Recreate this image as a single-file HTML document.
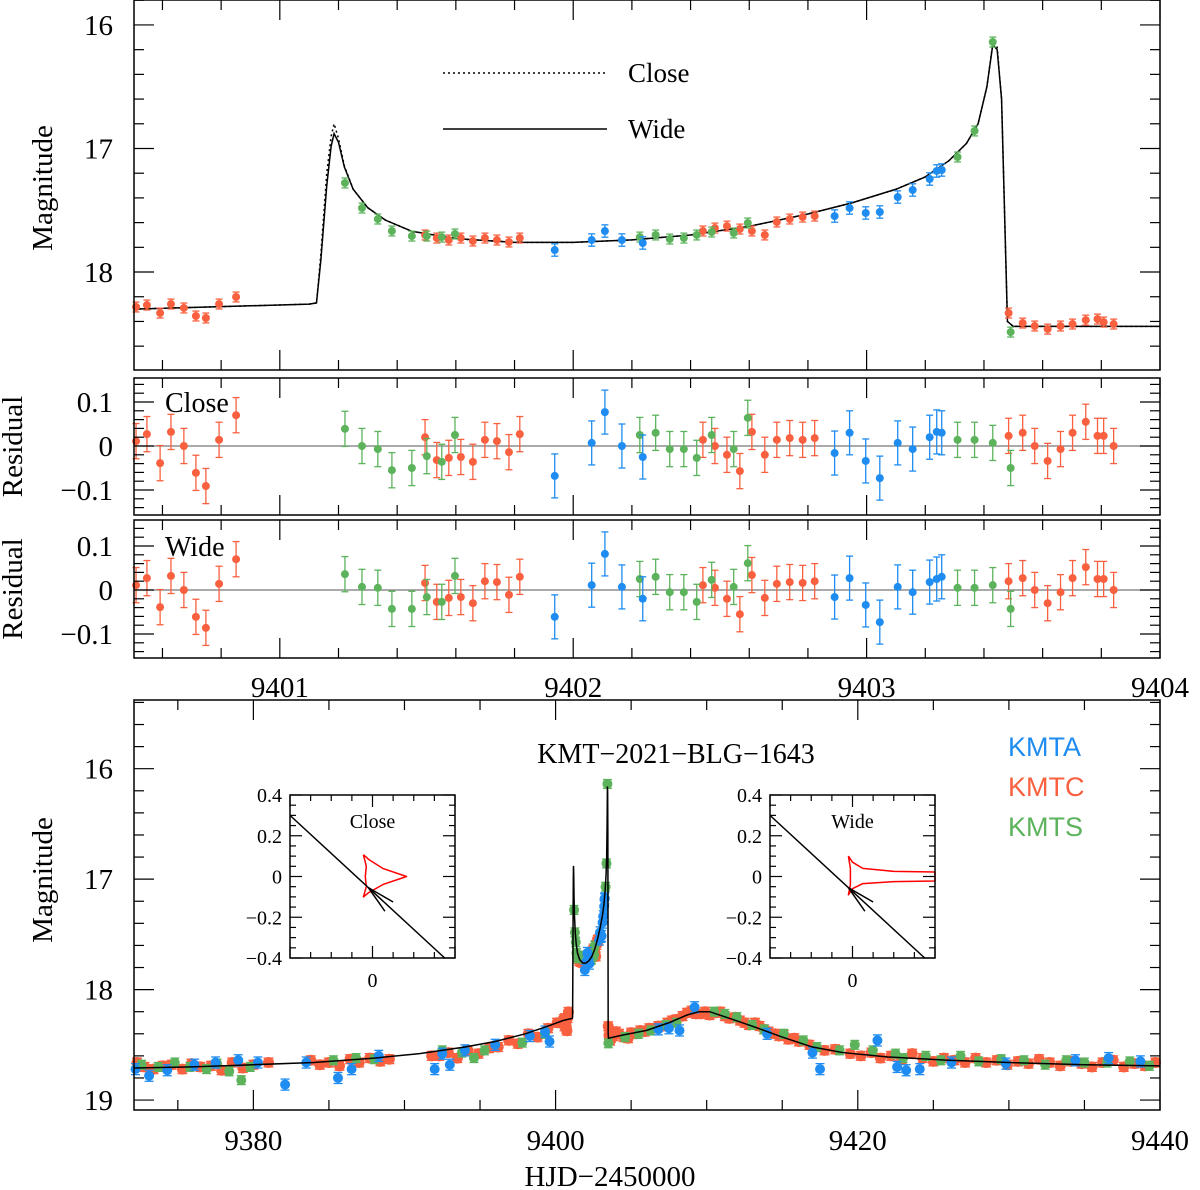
<!DOCTYPE html>
<html><head><meta charset="utf-8"><title>KMT-2021-BLG-1643</title>
<style>
html,body{margin:0;padding:0;background:#fff;}
svg{display:block;font-family:"Liberation Serif",serif;}
</style></head>
<body>
<svg id="chart" xmlns="http://www.w3.org/2000/svg" width="1200" height="1190" viewBox="0 0 1200 1190">
<rect x="0" y="0" width="1200" height="1190" fill="#fff"/>
</svg>
<script>
// ---------- DATA ----------
const cT = [9400.51,9400.547,9400.592,9400.629,9400.673,9400.714,9400.748,9400.793,9400.851,
 9401.495,9401.535,9401.576,9401.617,9401.658,9401.699,9401.740,9401.781,9401.818,
 9402.442,9402.483,9402.524,9402.568,9402.609,9402.653,9402.694,9402.738,9402.782,9402.823,
 9403.484,9403.532,9403.573,9403.617,9403.661,9403.702,9403.747,9403.787,9403.808,9403.842];
const cM = [18.283,18.267,18.332,18.259,18.291,18.356,18.372,18.259,18.202,
 17.700,17.725,17.741,17.725,17.749,17.725,17.741,17.757,17.725,
 17.668,17.644,17.628,17.652,17.668,17.700,17.595,17.571,17.555,17.547,
 18.332,18.413,18.437,18.462,18.437,18.421,18.389,18.381,18.405,18.421];
const cResClose = [0.011,0.027,-0.039,0.032,0.0,-0.061,-0.091,0.014,0.07,
 0.020,-0.032,-0.027,-0.025,-0.036,0.014,0.011,-0.014,0.027,
 0.014,0.0,-0.020,-0.057,0.032,-0.020,0.014,0.018,0.014,0.018,
 0.023,0.030,0.0,-0.034,-0.007,0.030,0.055,0.023,0.023,0.0];
const cResWide = [0.011,0.027,-0.039,0.032,0.0,-0.061,-0.086,0.014,0.07,
 0.016,-0.027,-0.018,-0.016,-0.030,0.020,0.018,-0.011,0.030,
 0.011,0.005,-0.020,-0.055,0.034,-0.018,0.014,0.018,0.016,0.020,
 0.020,0.027,0.0,-0.030,-0.005,0.027,0.052,0.025,0.025,0.0];

const sT = [9401.222,9401.280,9401.334,9401.382,9401.450,9401.501,9401.552,9401.597,
 9402.227,9402.281,9402.329,9402.377,9402.421,9402.472,9402.547,9402.595,
 9403.310,9403.368,9403.430,9403.491];
const sM = [17.279,17.482,17.571,17.668,17.709,17.709,17.717,17.692,
 17.717,17.700,17.733,17.725,17.700,17.676,17.684,17.603,
 17.069,16.858,16.138,18.486];
const sResClose = [0.039,0.0,-0.007,-0.055,-0.050,-0.023,-0.036,0.025,
 0.025,0.030,-0.007,-0.007,-0.027,0.025,-0.007,0.064,
 0.014,0.014,0.007,-0.050];
const sResWide = [0.036,0.007,0.005,-0.043,-0.043,-0.016,-0.027,0.032,
 0.025,0.030,-0.005,-0.005,-0.027,0.023,0.007,0.061,
 0.005,0.005,0.011,-0.043];

const aT = [9401.937,9402.063,9402.108,9402.166,9402.237,
 9402.891,9402.942,9402.997,9403.045,9403.106,9403.157,9403.215,9403.239,9403.256];
const aM = [17.822,17.741,17.668,17.741,17.765,
 17.547,17.482,17.522,17.514,17.393,17.336,17.247,17.182,17.174];
const aResClose = [-0.068,0.007,0.077,0.0,-0.025,-0.016,0.030,-0.034,-0.073,0.007,-0.007,0.020,0.032,0.030];
const aResWide = [-0.061,0.011,0.082,0.007,-0.020,-0.016,0.027,-0.034,-0.073,0.007,-0.005,0.018,0.025,0.030];

const errC = 0.04, errS = 0.04, errA = 0.05;

const modelT = [9400.503,9400.8,9401.1,9401.125,9401.14,9401.16,9401.175,9401.185,9401.20,9401.22,9401.25,9401.30,9401.36,9401.45,9401.6,9401.8,9402.0,9402.2,9402.4,9402.6,9402.8,9402.95,9403.1,9403.2,9403.28,9403.34,9403.38,9403.41,9403.43,9403.445,9403.46,9403.47,9403.48,9403.50,9404.0];
const wideM  = [18.30,18.28,18.26,18.25,17.9,17.3,16.98,16.88,16.95,17.15,17.33,17.48,17.58,17.67,17.73,17.76,17.76,17.74,17.70,17.63,17.53,17.44,17.33,17.23,17.10,16.96,16.80,16.50,16.16,16.20,16.60,17.50,18.40,18.44,18.44];
const closeM = [18.30,18.28,18.26,18.25,17.85,17.2,16.90,16.80,16.92,17.14,17.33,17.48,17.58,17.67,17.73,17.76,17.76,17.74,17.70,17.63,17.53,17.44,17.33,17.23,17.10,16.96,16.80,16.50,16.15,16.18,16.60,17.50,18.40,18.44,18.44];

const baseT1 = [9372.1,9376,9380,9384,9388,9391,9394,9396,9398,9399.5,9400.5,9401.1];
const baseM1 = [18.71,18.70,18.68,18.66,18.62,18.58,18.52,18.47,18.40,18.33,18.28,18.26];
const baseT2 = [9403.50,9404.5,9406,9407.5,9408.7,9409.5,9410.2,9411.5,9413,9415,9417,9419,9422,9426,9430,9435,9440];
const baseM2 = [18.44,18.41,18.37,18.30,18.23,18.20,18.20,18.26,18.33,18.43,18.52,18.57,18.61,18.64,18.66,18.68,18.69];

const bcT = [9372.3,9372.8,9373.4,9374.0,9374.6,9375.3,9375.9,9376.5,9377.2,9377.9,9378.6,9379.3,9380.0,9381.0,9383.8,9384.4,9385.0,9385.7,9386.4,9387.0,9387.7,9388.4,9389.0,9391.8,9392.3,9392.9,9393.5,9394.2,9394.9,9395.6,9396.2,9396.9,9397.5,9398.2,9398.8,9399.5,9400.1,9400.7,
 9403.7,9404.0,9404.2,9404.5,9404.8,9405.0,9405.3,9405.6,9405.9,9406.2,9406.5,9406.8,9407.1,9407.4,9407.7,9408.0,9408.4,9408.7,9409.0,9409.3,9409.6,9409.9,9410.2,9410.6,9410.9,9411.2,9411.5,9411.9,9412.2,9412.5,9412.8,9413.2,9413.5,9413.8,9414.1,9414.5,9414.8,9415.1,9415.4,9415.8,9416.1,9416.8,9417.8,9418.5,9419.5,9420.2,9420.9,9421.5,9422.2,9422.9,9423.6,9424.3,9425.0,9425.7,9426.4,9427.1,9427.8,9428.5,9429.2,9429.9,9430.6,9431.3,9432.0,9432.7,9433.4,9434.1,9434.8,9435.5,9436.2,9436.9,9437.6,9438.3,9439.0,9439.7];
const bcM = [18.66,18.70,18.72,18.69,18.68,18.72,18.67,18.70,18.69,18.73,18.66,18.71,18.68,18.66,18.64,18.68,18.66,18.69,18.63,18.66,18.62,18.65,18.63,18.60,18.60,18.57,18.62,18.55,18.58,18.53,18.52,18.46,18.49,18.40,18.43,18.35,18.30,18.28,
 18.42,18.38,18.40,18.43,18.44,18.39,18.40,18.37,18.38,18.35,18.35,18.33,18.33,18.30,18.28,18.27,18.24,18.21,18.19,18.22,18.22,18.20,18.23,18.21,18.20,18.24,18.26,18.25,18.28,18.30,18.32,18.30,18.33,18.36,18.38,18.40,18.42,18.41,18.45,18.44,18.47,18.50,18.55,18.54,18.58,18.60,18.57,18.62,18.60,18.63,18.58,18.62,18.65,18.62,18.64,18.66,18.62,18.66,18.64,18.68,18.65,18.67,18.63,18.66,18.69,18.65,18.67,18.70,18.66,18.64,18.70,18.67,18.69,18.66];
const bsT = [9372.6,9373.7,9374.8,9375.8,9376.9,9377.6,9378.4,9379.2,9379.8,9385.3,9386.8,9388.0,9392.5,9393.8,9394.6,9395.3,9397.8,9399.3,
 9404.6,9405.5,9406.3,9407.3,9408.0,9410.5,9411.2,9412.0,9413.0,9413.8,9415.1,9416.4,9417.3,9418.8,9419.8,9421.0,9422.5,9423.0,9424.5,9425.5,9426.8,9428.0,9429.5,9431.0,9432.4,9433.8,9435.0,9436.5,9438.0,9439.3];
const bsM = [18.68,18.70,18.66,18.70,18.72,18.67,18.74,18.82,18.70,18.64,18.62,18.63,18.55,18.57,18.62,18.55,18.48,18.40,
 18.43,18.40,18.37,18.32,18.30,18.20,18.22,18.25,18.32,18.36,18.40,18.46,18.52,18.55,18.50,18.55,18.58,18.62,18.60,18.64,18.60,18.65,18.63,18.64,18.68,18.64,18.66,18.66,18.65,18.69];
const baT = [9372.2,9373.1,9374.3,9376.1,9377.5,9379.0,9380.3,9382.1,9383.5,9385.6,9386.5,9388.3,9392.0,9392.5,9393.0,9394.0,9396.0,9398.3,9399.3,9399.6,
 9406.8,9407.5,9408.2,9409.2,9414.0,9417.0,9417.5,9421.3,9422.6,9423.2,9424.1,9426.2,9429.8,9434.4,9436.6,9438.7];
const baM = [18.72,18.78,18.73,18.68,18.66,18.64,18.66,18.86,18.66,18.80,18.72,18.60,18.72,18.58,18.68,18.55,18.50,18.42,18.38,18.47,
 18.36,18.35,18.37,18.16,18.40,18.57,18.72,18.46,18.70,18.73,18.72,18.66,18.67,18.64,18.62,18.65];

const closeCausticX = [-0.044,-0.02,0.05,0.165,0.05,-0.02,-0.044,-0.03,-0.035,-0.03,-0.044];
const closeCausticY = [0.107,0.085,0.04,0.0,-0.04,-0.08,-0.10,-0.05,0.0,0.05,0.107];
const wideCausticX = [-0.02,0.0,0.05,0.2,0.4,0.4,0.2,0.05,0.0,-0.02,-0.01,-0.01,-0.02];
const wideCausticY = [0.10,0.07,0.04,0.025,0.022,-0.022,-0.025,-0.035,-0.06,-0.09,-0.04,0.04,0.10];
const trajX = [-0.40,0.35];
const trajY = [0.30,-0.40];

const COL_A = "#1e8cf0", COL_C = "#f9603f", COL_S = "#5cb35c";

// ---------- HELPERS ----------
const NS = "http://www.w3.org/2000/svg";
const svg = document.getElementById("chart");
function el(tag, parent, attrs){ const e=document.createElementNS(NS,tag); for(const k in attrs) e.setAttribute(k, attrs[k]); parent.appendChild(e); return e; }
function panel(x0,x1,y0,y1,px0,px1,py0,py1){
  return {x0,x1,y0,y1,px0,px1,py0,py1,
    sx:t=>px0+(t-x0)/(x1-x0)*(px1-px0),
    sy:v=>py0+(v-y0)/(y1-y0)*(py1-py0)};
}
function frame(P, g){
  const r = el("rect", g, {x:P.px0,y:P.py0,width:P.px1-P.px0,height:P.py1-P.py0,fill:"none",stroke:"#000","stroke-width":1.5});
  
  
}
function xticks(P,g,start,end,minor,major,majLen,minLen){
  const n=Math.round((end-start)/minor);
  for(let i=0;i<=n;i++){
    const v=start+i*minor; const x=P.sx(v);
    if(x<P.px0-0.5||x>P.px1+0.5) continue;
    const isMaj=Math.abs(v/major-Math.round(v/major))<1e-6;
    const L=isMaj?majLen:minLen;
    el("line",g,{x1:x,x2:x,y1:P.py1,y2:P.py1-L,stroke:"#000","stroke-width":1.2});
    el("line",g,{x1:x,x2:x,y1:P.py0,y2:P.py0+L,stroke:"#000","stroke-width":1.2});
  }
}
function yticks(P,g,start,end,minor,major,majLen,minLen){
  const n=Math.round((end-start)/minor);
  for(let i=0;i<=n;i++){
    const v=start+i*minor; const y=P.sy(v);
    if(y<Math.min(P.py0,P.py1)-0.5||y>Math.max(P.py0,P.py1)+0.5) continue;
    const isMaj=Math.abs(v/major-Math.round(v/major))<1e-6;
    const L=isMaj?majLen:minLen;
    el("line",g,{x1:P.px0,x2:P.px0+L,y1:y,y2:y,stroke:"#000","stroke-width":1.2});
    el("line",g,{x1:P.px1,x2:P.px1-L,y1:y,y2:y,stroke:"#000","stroke-width":1.2});
  }
}
function text(g,x,y,str,size,anchor,extra){
  const t=el("text",g,Object.assign({x:x,y:y,"font-size":size,"text-anchor":anchor||"middle",fill:"#000"},extra||{}));
  t.textContent=str; return t;
}
function points(P,g,T,V,err,col,r,name){
  for(let i=0;i<T.length;i++){
    const x=P.sx(T[i]), y=P.sy(V[i]);
    if(x<P.px0||x>P.px1) continue;
    const y1=P.sy(V[i]-err), y2=P.sy(V[i]+err);
    const cw=r-0.5;
    el("line",g,{x1:x,x2:x,y1:y1,y2:y2,stroke:col,"stroke-width":1.3});
    el("line",g,{x1:x-cw,x2:x+cw,y1:y1,y2:y1,stroke:col,"stroke-width":1.3});
    el("line",g,{x1:x-cw,x2:x+cw,y1:y2,y2:y2,stroke:col,"stroke-width":1.3});
    const c=el("circle",g,{cx:x,cy:y,r:r,fill:col});
    
    
  }
}
function curve(P,g,T,V,dash,name){
  let d="";
  for(let i=0;i<T.length;i++){ d+=(i?"L":"M")+P.sx(T[i]).toFixed(2)+","+P.sy(V[i]).toFixed(2); }
  const p=el("path",g,{d:d,fill:"none",stroke:"#000","stroke-width":1.5});
  if(dash) p.setAttribute("stroke-dasharray",dash);
  
  
  return p;
}

// ---------- TOP PANEL ----------
const gTop=el("g",svg,{});  
const PT=panel(9400.503,9404.0,15.798,18.793,134,1160,0,370);
curve(PT,gTop,modelT,closeM,"2,3","close-model-line");
curve(PT,gTop,modelT,wideM,null,"wide-model-line");
points(PT,gTop,cT,cM,errC,COL_C,4,"kmtc-point");
points(PT,gTop,sT,sM,errS,COL_S,4,"kmts-point");
points(PT,gTop,aT,aM,errA,COL_A,4,"kmta-point");
frame(PT,gTop);
xticks(PT,gTop,9400.6,9404.0,0.2,1,20,10);
yticks(PT,gTop,15.8,18.8,0.2,1,20,10);
["16","17","18"].forEach((s,i)=>{ const t=text(gTop,113,PT.sy(16+i)+10,s,29,"end");   });
{ const t=text(gTop,0,0,"Magnitude",29,"middle",{transform:"translate(52,188) rotate(-90)"});   }
{ const l=el("line",gTop,{x1:443,x2:607,y1:73,y2:73,stroke:"#000","stroke-width":1.5,"stroke-dasharray":"2,3"});  
  const t=text(gTop,628,82,"Close",27,"start");  
  const l2=el("line",gTop,{x1:443,x2:607,y1:129,y2:129,stroke:"#000","stroke-width":1.5});  
  const t2=text(gTop,628,138,"Wide",27,"start");   }

// ---------- RESIDUAL PANELS ----------
function residPanel(py0,py1,zeroY,resC,resS,resA,label,name){
  const g=el("g",svg,{});  
  const yTop=(zeroY-py0)/440, yBot=-(py1-zeroY)/440;
  const P=panel(9400.503,9404.0,yTop,yBot,134,1160,py0,py1);
  el("line",g,{x1:134,x2:1160,y1:P.sy(0),y2:P.sy(0),stroke:"#777","stroke-width":1.2});
  points(P,g,cT,resC,errC,COL_C,4,"kmtc-residual");
  points(P,g,sT,resS,errS,COL_S,4,"kmts-residual");
  points(P,g,aT,resA,errA,COL_A,4,"kmta-residual");
  frame(P,g);
  xticks(P,g,9400.6,9404.0,0.2,1,20,10);
  yticks(P,g,-0.14,0.14,0.02,0.1,20,10);
  [["0.1",0.1],["0",0],["\u22120.1",-0.1]].forEach(a=>{ const t=text(g,113,P.sy(a[1])+10,a[0],29,"end");   });
  const tl=text(g,165,P.sy(0.1)+10,label,28,"start");  
  const ty=text(g,0,0,"Residual",29,"middle",{transform:"translate(22,"+((py0+py1)/2)+") rotate(-90)"});  
  return P;
}
residPanel(378,515,446,cResClose,sResClose,aResClose,"Close","close-residual-panel");
residPanel(520,658,590,cResWide,sResWide,aResWide,"Wide","wide-residual-panel");
[["9401",9401],["9402",9402],["9403",9403],["9404",9404]].forEach(a=>{ const t=text(svg,PT.sx(a[1]),697,a[0],29,"middle");   });

// ---------- BOTTOM PANEL ----------
const gB=el("g",svg,{});  
const PB=panel(9372.1,9440.0,15.378,19.09,134,1160,700,1110);
const spikeT=[], spikeM=[];
for(let i=0;i<modelT.length;i++){ if(modelT[i]>9401.1&&modelT[i]<9403.5){ spikeT.push(modelT[i]); spikeM.push(wideM[i]); } }
const fullT=baseT1.concat(spikeT,baseT2), fullM=baseM1.concat(spikeM,baseM2);
points(PB,gB,bcT.concat(cT),bcM.concat(cM),errC,COL_C,5.5,"kmtc-season-point");
points(PB,gB,bsT.concat(sT),bsM.concat(sM),errS,COL_S,5,"kmts-season-point");
points(PB,gB,baT.concat(aT),baM.concat(aM),errA,COL_A,5,"kmta-season-point");
curve(PB,gB,fullT,fullM,null,"season-model-line");
frame(PB,gB);
xticks(PB,gB,9375,9440,5,20,20,10);
yticks(PB,gB,15.4,19.0,0.2,1,20,10);
["16","17","18","19"].forEach((s,i)=>{ const t=text(gB,113,PB.sy(16+i)+10,s,29,"end");   });
[["9380",9380],["9400",9400],["9420",9420],["9440",9440]].forEach(a=>{ const t=text(gB,PB.sx(a[1]),1150,a[0],29,"middle");   });
{ const t=text(gB,610,1186,"HJD\u22122450000",29,"middle");   }
{ const t=text(gB,0,0,"Magnitude",29,"middle",{transform:"translate(52,880) rotate(-90)"});   }
{ const t=text(gB,676,763,"KMT\u22122021\u2212BLG\u22121643",28,"middle");   }
[["KMTA",COL_A,756],["KMTC",COL_C,796],["KMTS",COL_S,836]].forEach(a=>{
  const t=text(gB,1008,a[2],a[0],27,"start",{fill:a[1],"font-family":"Liberation Sans, sans-serif"});
  
  
});

// ---------- INSETS ----------
function inset(px0,label,cx,cy,name){
  const g=el("g",svg,{});  
  const P=panel(-0.4,0.4,0.4,-0.4,px0,px0+165,795,958);
  el("rect",g,{x:px0,y:795,width:165,height:163,fill:"#fff",stroke:"none"});
  let d="";
  for(let i=0;i<cx.length;i++) d+=(i?"L":"M")+P.sx(cx[i]).toFixed(1)+","+P.sy(cy[i]).toFixed(1);
  const cp=el("path",g,{d:d,fill:"none",stroke:"#f00","stroke-width":1.5,"stroke-linejoin":"round"});
  
  
  const tr=el("line",g,{x1:P.sx(trajX[0]),y1:P.sy(trajY[0]),x2:P.sx(trajX[1]),y2:P.sy(trajY[1]),stroke:"#000","stroke-width":1.5});
  
  
  el("line",g,{x1:P.sx(-0.02),y1:P.sy(-0.055),x2:P.sx(0.1),y2:P.sy(-0.125),stroke:"#000","stroke-width":1.5});
  el("line",g,{x1:P.sx(-0.02),y1:P.sy(-0.055),x2:P.sx(0.06),y2:P.sy(-0.17),stroke:"#000","stroke-width":1.5});
  frame(P,g);
  xticks(P,g,-0.4,0.4,0.1,0.4,12,6);
  yticks(P,g,-0.4,0.4,0.05,0.2,12,6);
  [["0.4",0.4],["0.2",0.2],["0",0],["\u22120.2",-0.2],["\u22120.4",-0.4]].forEach(a=>{
    const t=text(g,px0-8,P.sy(a[1])+7,a[0],20,"end");  
  });
  const t0=text(g,P.sx(0),987,"0",20,"middle");  
  const tl=text(g,P.sx(0),828,label,20,"middle");  
}
inset(290,"Close",closeCausticX,closeCausticY,"close-caustic-inset");
inset(770,"Wide",wideCausticX,wideCausticY,"wide-caustic-inset");
</script>
</body></html>
